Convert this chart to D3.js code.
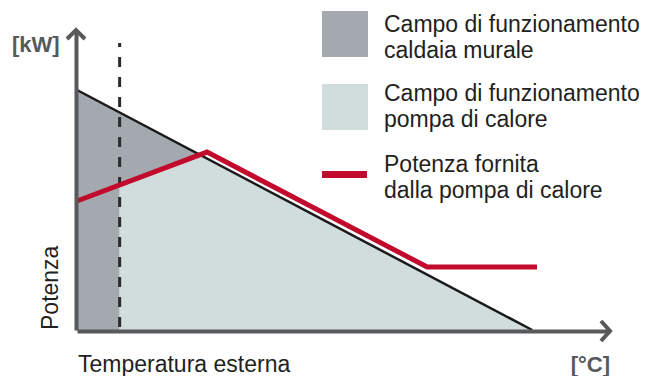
<!DOCTYPE html>
<html>
<head>
<meta charset="utf-8">
<script src="https://cdn.jsdelivr.net/npm/d3@7"></script>
<style>
  body { margin: 0; background: #fff; }
  text { font-family: "Liberation Sans", Arial, sans-serif; }
</style>
</head>
<body>
<svg id="chart" width="672" height="376"></svg>
<script>

// values (arbitrary units, axis has no ticks)
const capacityT = [0, 85.4];
const capacityP = [80, 0];
const pumpT = [0, 24.4, 65.7, 86.3];
const pumpP = [43, 59.3, 21, 21];
const boilerLimitT = 8;
const boilerLimitTop = 95.7;

const legendLabels = [
  ["Campo di funzionamento", "caldaia murale"],
  ["Campo di funzionamento", "pompa di calore"],
  ["Potenza fornita", "dalla pompa di calore"]
];
const legendKinds = ["box", "box", "line"];
const legendColors = ["#a3a9ae", "#d1dcdd", "#c20a2c"];

const svg = d3.select('#chart');

const x_scale = d3.scaleLinear().domain([0, 100]).range([77, 610]);
const y_scale = d3.scaleLinear().domain([0, 100]).range([330, 30]);

const capacity = capacityT.map((t, i) => ({t: t, p: capacityP[i]}));
const pump = pumpT.map((t, i) => ({t: t, p: pumpP[i]}));

// capacity line value at t
function capAt(t) {
  return capacityP[0] + (capacityP[1] - capacityP[0]) * (t - capacityT[0]) / (capacityT[1] - capacityT[0]);
}
function pumpAt(t) {
  for (let i = 0; i < pump.length - 1; i++) {
    if (t >= pump[i].t && t <= pump[i + 1].t) {
      return pump[i].p + (pump[i + 1].p - pump[i].p) * (t - pump[i].t) / (pump[i + 1].t - pump[i].t);
    }
  }
  return pump[pump.length - 1].p;
}

// crossing of the first pump segment with the capacity line
const a = pump[0], b = pump[1];
const sPump = (b.p - a.p) / (b.t - a.t);
const sCap = (capacityP[1] - capacityP[0]) / (capacityT[1] - capacityT[0]);
const crossT = (capacityP[0] - a.p) / (sPump - sCap);
const cross = {t: crossT, p: capAt(crossT)};
const pumpAtLimit = {t: boilerLimitT, p: pumpAt(boilerLimitT)};

const line = d3.line().x(d => x_scale(d.t)).y(d => y_scale(d.p));

// boiler field (dark)
svg.append("path")
  .datum([{t: 0, p: 0}, capacity[0], cross, pumpAtLimit, {t: boilerLimitT, p: 0}])
  .attr("fill", legendColors[0])
  .attr("d", d => line(d) + "Z");

// heat pump field (light)
svg.append("path")
  .datum([{t: boilerLimitT, p: 0}, pumpAtLimit, cross, capacity[1]])
  .attr("fill", legendColors[1])
  .attr("d", d => line(d) + "Z");

// capacity line
svg.append("path")
  .datum(capacity)
  .attr("fill", "none")
  .attr("stroke", "#1a1a1a")
  .attr("stroke-width", 2.5)
  .attr("d", line);

// boiler limit
svg.append("line")
  .attr("x1", x_scale(boilerLimitT)).attr("x2", x_scale(boilerLimitT))
  .attr("y1", y_scale(boilerLimitTop)).attr("y2", y_scale(0))
  .attr("stroke", "#2a2a2a")
  .attr("stroke-width", 3)
  .attr("stroke-dasharray", "10,10")
  .attr("stroke-dashoffset", 6);

// heat pump output
svg.append("path")
  .datum(pump)
  .attr("fill", "none")
  .attr("stroke", legendColors[2])
  .attr("stroke-width", 5)
  .attr("d", line);

// axes
const axisColor = "#58595b";
svg.append("g")
  .attr("transform", "translate(0," + (y_scale(0) + 1) + ")")
  .call(d3.axisBottom(x_scale).ticks(0).tickSizeOuter(0))
  .call(g => g.select(".domain").attr("stroke", axisColor).attr("stroke-width", 4));
svg.append("g")
  .attr("transform", "translate(" + (x_scale(0) - 1) + ",0)")
  .call(d3.axisLeft(y_scale).ticks(0).tickSizeOuter(0))
  .call(g => g.select(".domain").attr("stroke", axisColor).attr("stroke-width", 4));

// arrow heads
const xe = x_scale(100), ye = y_scale(100);
svg.append("path")
  .attr("d", `M${xe - 9},${y_scale(0) - 9} L${xe},${y_scale(0) + 1} L${xe - 9},${y_scale(0) + 11}`)
  .attr("fill", "none").attr("stroke", axisColor).attr("stroke-width", 4);
svg.append("path")
  .attr("d", `M${x_scale(0) - 10},${ye + 9} L${x_scale(0) - 1},${ye} L${x_scale(0) + 8},${ye + 9}`)
  .attr("fill", "none").attr("stroke", axisColor).attr("stroke-width", 4);

// axis labels
svg.append("text").attr("x", 12).attr("y", 52)
  .attr("font-size", 22).attr("font-weight", "bold").attr("fill", axisColor)
  .text("[kW]");
svg.append("text").attr("x", 610).attr("y", 372).attr("text-anchor", "end")
  .attr("font-size", 22).attr("font-weight", "bold").attr("fill", axisColor)
  .text("[°C]");
svg.append("text")
  .attr("transform", "translate(58,330) rotate(-90)")
  .attr("font-size", 23).attr("fill", "#231f20")
  .text("Potenza");
svg.append("text").attr("x", 78).attr("y", 372)
  .attr("font-size", 23).attr("fill", "#231f20")
  .text("Temperatura esterna");

// legend
const legendTop = [11, 84, 171];
const legendBase = [32, 101, 172];
const lg = svg.append("g");
legendLabels.forEach(function(lines, ix) {
  if (legendKinds[ix] === "box") {
    lg.append("rect").attr("x", 322).attr("y", legendTop[ix])
      .attr("width", 46).attr("height", 46).attr("fill", legendColors[ix]);
  } else {
    lg.append("rect").attr("x", 322).attr("y", legendTop[ix])
      .attr("width", 45).attr("height", 7).attr("fill", legendColors[ix]);
  }
  const t = lg.append("text").attr("x", 384).attr("y", legendBase[ix])
    .attr("font-size", 23).attr("fill", "#231f20");
  lines.forEach(function(l, j) {
    t.append("tspan").attr("x", 384).attr("dy", j === 0 ? 0 : 25.8).text(l);
  });
});

</script>
</body>
</html>
